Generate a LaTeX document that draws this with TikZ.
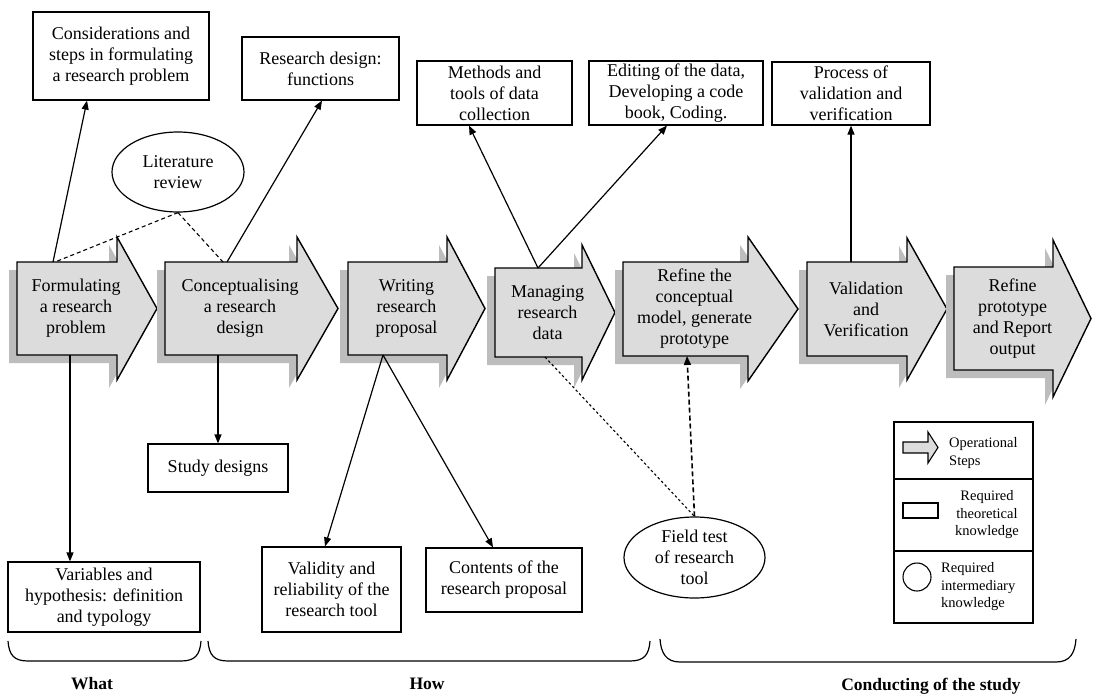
\documentclass[tikz,border=0pt]{standalone}
\usepackage{fontspec}
\setmainfont{Liberation Serif}
\usetikzlibrary{arrows.meta,shapes.geometric}

\definecolor{stepfill}{HTML}{DCDCDC}
\definecolor{stepshade}{HTML}{BDBDBD}

\tikzset{
  mainfont/.style={font=\fontsize{18}{21}\selectfont},
  legfont/.style={font=\fontsize{14.5}{17.5}\selectfont},
  box/.style={draw, line width=1.2pt, align=center, inner sep=0pt, mainfont},
  oval/.style={draw, ellipse, line width=1.2pt, align=center, inner sep=0pt, mainfont},
  stepbody/.style={inner sep=0pt, outer sep=0pt},
  steptext/.style={align=center, inner sep=0pt, mainfont},
  stepoutline/.style={fill=stepfill, draw=black, line width=1.4pt, line join=miter},
  stepshadow/.style={fill=stepshade},
  tip/.style={-{Triangle[length=9pt,width=7pt]}},
  link/.style={line width=1.2pt, tip},
  litlink/.style={line width=1.1pt, dash pattern=on 4pt off 3pt},
  finelink/.style={line width=1.1pt, dash pattern=on 2.5pt off 2.5pt},
  testlink/.style={line width=1.6pt, dash pattern=on 5pt off 3pt, tip},
  bracket/.style={line width=1.2pt},
  phase/.style={font=\fontsize{17.5}{20}\selectfont\bfseries, inner sep=0pt}
}

% Operational step: name, left x, head base x, top y, bottom y, tip x, head overhang, label
\newcommand\opstep[8]{%
  \begin{scope}[shift={(-8,8)}]
    \path[stepshadow] (#2,#4) -- (#3,#4) -- (#3,#4-#7) -- (#6,{(#4+#5)/2})
      -- (#3,#5+#7) -- (#3,#5) -- (#2,#5) -- cycle;
  \end{scope}
  \path[stepoutline] (#2,#4) -- (#3,#4) -- (#3,#4-#7) -- (#6,{(#4+#5)/2})
      -- (#3,#5+#7) -- (#3,#5) -- (#2,#5) -- cycle;
  \node[stepbody, minimum width={(#3-#2)*1pt}, minimum height={(#5-#4)*1pt}]
    (#1) at ({(#2+#3)/2},{(#4+#5)/2}) {};
  \node[steptext] (#1t) at ([xshift=9pt]#1.center) {#8};
}

% Round bracket under a group of steps: left x, right x, top y, bottom y
\newcommand\groupbracket[4]{%
  \draw[bracket] (#1,#3) .. controls (#1+1,#3+14) and (#1+6,#4) .. (#1+20,#4)
    -- (#2-20,#4) .. controls (#2-6,#4) and (#2-1,#3+14) .. (#2,#3);
}

\begin{document}
\begin{tikzpicture}[x=1pt,y=-1pt]
\useasboundingbox (0,0) rectangle (1093,697);

% operational steps
\opstep{s1}{17}{117}{262}{355}{157}{25}{Formulating\\a research\\problem}
\opstep{s2}{165}{297}{262}{355}{338}{25}{Conceptualising\\a research\\design}
\opstep{s3}{348}{447}{262}{355}{485}{25}{Writing\\research\\proposal}
\opstep{s4}{495}{582}{268}{357}{615}{23}{Managing\\research\\data}
\opstep{s5}{623}{748}{262}{356}{798}{25}{Refine the\\conceptual\\model, generate\\prototype}
\opstep{s6}{807}{907}{262}{356}{947}{24}{Validation\\and\\Verification}
\opstep{s7}{954}{1053}{267}{370}{1091}{27}{Refine\\prototype\\and Report\\output}

% theoretical knowledge
\node[box, minimum width=176pt, minimum height=88pt] (cons) at (121,56)
  {Considerations and\\steps in formulating\\a research problem};
\node[box, minimum width=157pt, minimum height=63pt] (rdf) at (320.5,68.5)
  {Research design:\\functions};
\node[box, minimum width=155pt, minimum height=64pt] (meth) at (494.5,93)
  {Methods and\\tools of data\\collection};
\node[box, minimum width=174pt, minimum height=64pt] (edit) at (676,93)
  {Editing of the data,\\Developing a code\\book, Coding.};
\node[box, minimum width=158pt, minimum height=63pt] (proc) at (851,93.5)
  {Process of\\validation and\\verification};
\node[box, minimum width=140pt, minimum height=48pt] (sd) at (218,468)
  {Study designs};
\node[box, minimum width=192pt, minimum height=70pt] (var) at (104,597)
  {Variables and\\hypothesis: definition\\and typology};
\node[box, minimum width=139pt, minimum height=85pt] (val) at (331.5,589.5)
  {Validity and\\reliability of the\\research tool};
\node[box, minimum width=156pt, minimum height=64pt] (cont) at (504,580)
  {Contents of the\\research proposal};

% intermediary knowledge
\node[oval, minimum width=132pt, minimum height=80pt] (lit) at (178,172)
  {Literature\\review};
\node[oval, minimum width=141pt, minimum height=81pt] (field) at (694.5,557.5)
  {Field test\\of research\\tool};

% links upwards
\draw[link] ([xshift=36pt]s1.north west) -- ([xshift=-34pt]cons.south);
\draw[link] ([xshift=62pt]s2.north west) -- ([xshift=1.5pt]rdf.south);
\draw[link] ([xshift=43pt]s4.north west) -- ([xshift=-25.5pt]meth.south);
\draw[link] ([xshift=43pt]s4.north west) -- ([xshift=-9pt]edit.south);
\draw[link] ([xshift=44pt]s6.north west) -- (proc.south);

% links downwards
\draw[link] ([xshift=53pt]s1.south west) -- ([xshift=-34pt]var.north);
\draw[link] ([xshift=53pt]s2.south west) -- (sd.north);
\draw[link] ([xshift=35pt]s3.south west) -- ([xshift=-6.5pt]val.north);
\draw[link] ([xshift=35pt]s3.south west) -- ([xshift=-11pt]cont.north);

% intermediary links
\draw[litlink] (lit.south) -- ([xshift=38pt]s1.north west);
\draw[litlink] (lit.south) -- ([xshift=58pt]s2.north west);
\draw[finelink] ([xshift=50pt]s4.south west) -- (field.north);
\draw[testlink] (field.north) -- ([xshift=64pt]s5.south west);

% legend
\node[draw, line width=1.2pt, minimum width=139pt, minimum height=201pt, inner sep=0pt]
  (legend) at (963.5,522.5) {};
\draw[line width=1.2pt] (894,479) -- (1033,479);
\draw[line width=1.2pt] (894,551) -- (1033,551);
\path[stepoutline, line width=1.1pt] (903,442) -- (928,442) -- (928,432) -- (938,447.5)
  -- (928,463) -- (928,453) -- (903,453) -- cycle;
\node[legfont, align=left, anchor=west, inner sep=0pt] (legstep) at (949,453)
  {Operational\\Steps};
\node[draw, line width=1.1pt, minimum width=35pt, minimum height=15pt, inner sep=0pt]
  (legbox) at (920.5,510.5) {};
\node[legfont, align=center, inner sep=0pt] (legboxt) at (987,515)
  {Required\\theoretical\\knowledge};
\node[draw, circle, line width=1.1pt, minimum size=28pt, inner sep=0pt]
  (legoval) at (917,577) {};
\node[legfont, align=left, anchor=west, inner sep=0pt] (legovalt) at (941,587)
  {Required\\intermediary\\knowledge};

% phase groups
\groupbracket{8}{201}{641}{661}
\groupbracket{208}{650}{641}{661}
\groupbracket{660}{1076}{639}{662}
\node[phase] (what) at (92,684) {What};
\node[phase] (how) at (427,684) {How};
\node[phase] (conduct) at (931,686) {Conducting of the study};

\end{tikzpicture}
\end{document}
